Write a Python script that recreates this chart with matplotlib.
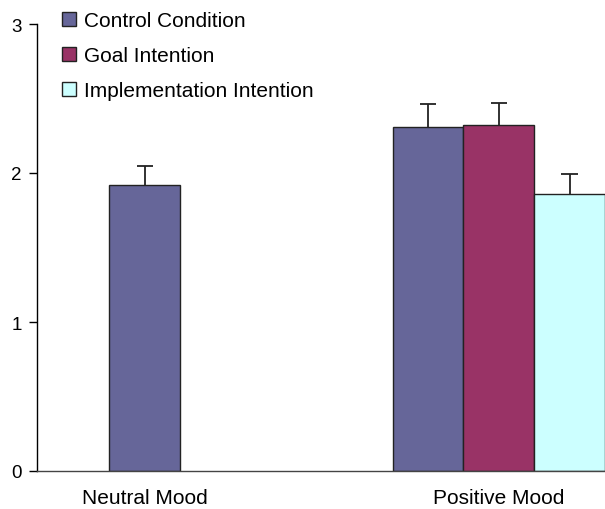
import numpy as np
import matplotlib.pyplot as plt
from matplotlib.patches import Patch

plt.rcParams['font.family'] = ['Liberation Sans', 'DejaVu Sans']

# Mood conditions and group means / upper error bars
moods = ['Neutral Mood', 'Positive Mood']
conditions = ['Control Condition', 'Goal Intention', 'Implementation Intention']
colors = ['#666699', '#993366', '#CCFFFF']

neutral_means = [1.92]
neutral_errs = [0.13]
positive_means = [2.31, 2.32, 1.86]
positive_errs = [0.15, 0.15, 0.13]

width = 0.2
cap = 0.023


def upper_error(ax, xs, means, errs):
    """Draw only the upper half of each error bar, with a flat cap."""
    xs = np.asarray(xs)
    tops = np.asarray(means) + np.asarray(errs)
    ax.vlines(xs, means, tops, color='#222222', linewidth=1.3, zorder=3)
    ax.hlines(tops, xs - cap, xs + cap, color='#222222', linewidth=1.3, zorder=3)


fig = plt.figure(figsize=(6.05, 5.1), dpi=100)
ax = fig.add_axes([37 / 605, 38 / 510, 1 - 37 / 605, (472 - 25) / 510])

# neutral mood: control condition only
ax.bar([0], neutral_means, width=width, color=colors[0],
       edgecolor='#222222', linewidth=1, zorder=2)
upper_error(ax, [0], neutral_means, neutral_errs)

# positive mood: all three conditions
offsets = np.array([-1, 0, 1]) * width
ax.bar(1 + offsets, positive_means, width=width, color=colors,
       edgecolor='#222222', linewidth=1, zorder=2)
upper_error(ax, 1 + offsets, positive_means, positive_errs)

ax.set_xlim(-0.304, 1.3)
ax.set_ylim(0, 3)
ax.set_yticks([0, 1, 2, 3])
ax.set_xticks([0, 1])
ax.set_xticklabels(moods)
ax.tick_params(axis='x', length=0, pad=12, labelsize=15)
ax.tick_params(axis='y', length=6, width=1, pad=5, labelsize=13.5)
for side in ['top', 'right']:
    ax.spines[side].set_visible(False)
ax.spines['left'].set_linewidth(1)
ax.spines['bottom'].set_linewidth(1)
ax.spines['bottom'].set_color('#444444')

handles = [Patch(facecolor=c, edgecolor='#222222', linewidth=1) for c in colors]
fig.legend(handles, conditions, loc='upper left',
           bbox_to_anchor=(62 / 605, 1 - 12 / 510), frameon=False,
           fontsize=15, borderpad=0, borderaxespad=0,
           handlelength=0.65, handleheight=0.65, handletextpad=0.4,
           labelspacing=0.77)

fig.savefig('out.png', dpi=100)
